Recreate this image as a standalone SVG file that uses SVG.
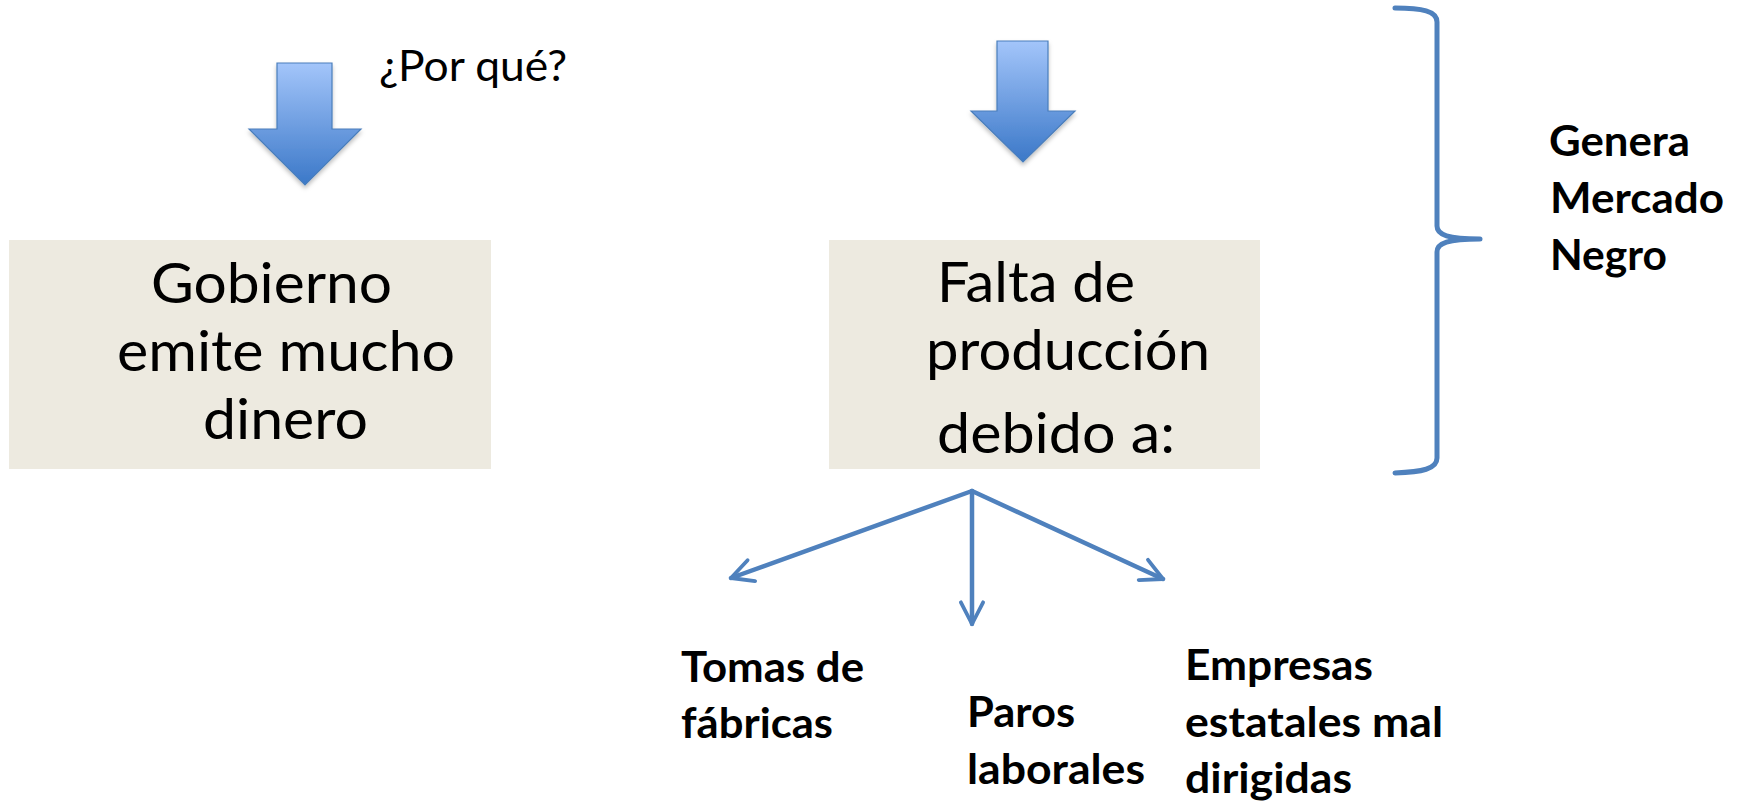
<svg xmlns="http://www.w3.org/2000/svg" width="1743" height="803" viewBox="0 0 1743 803">
<defs>
<linearGradient id="blueGrad" x1="0" y1="0" x2="0" y2="1">
<stop offset="0" stop-color="#a3c5fa"/>
<stop offset="1" stop-color="#3b78c8"/>
</linearGradient>
<filter id="shadow" x="-20%" y="-20%" width="140%" height="140%">
<feDropShadow dx="0" dy="3" stdDeviation="2" flood-color="#000" flood-opacity="0.25"/>
</filter>
<marker id="openArrow" viewBox="0 0 10 10" refX="8.6" refY="5" markerWidth="6.5" markerHeight="6.5" orient="auto" markerUnits="strokeWidth">
<path d="M1.2,1.2 L8.6,5 L1.2,8.8" fill="none" stroke="#4f81bd" stroke-width="1.3" stroke-linecap="round" stroke-linejoin="round"/>
</marker>
</defs>
<style>
.box{fill:#edeae0}
.big{font-family:Lato,"Open Sans","Liberation Sans",sans-serif;font-size:56px;fill:#000}
.lbl{font-family:Lato,"Open Sans","Liberation Sans",sans-serif;font-size:42px;fill:#000}
.bold{font-family:Lato,"Open Sans","Liberation Sans",sans-serif;font-size:42px;font-weight:bold;fill:#000}
.barrow{fill:url(#blueGrad);stroke:#4a7ebb;stroke-width:1.2;filter:url(#shadow)}
.conn{stroke:#4f81bd;stroke-width:4.5;fill:none;stroke-linecap:round}
.brace{stroke:#4f81bd;stroke-width:5;fill:none;stroke-linecap:round;stroke-linejoin:round}
</style>
<rect width="1743" height="803" fill="#ffffff"/>

<g id="arrow-left">
<polygon class="barrow" points="277,63 332,63 332,129 361,129 305,185 249,129 277,129"/>
</g>
<g id="label-porque">
<text class="lbl" x="379" y="81" textLength="188" lengthAdjust="spacingAndGlyphs">¿Por qué?</text>
</g>
<g id="node-gobierno">
<rect class="box" x="9" y="240" width="482" height="229"/>
<text class="big" x="151" y="303" textLength="241" lengthAdjust="spacingAndGlyphs">Gobierno</text>
<text class="big" x="117" y="371" textLength="338" lengthAdjust="spacingAndGlyphs">emite mucho</text>
<text class="big" x="203" y="439" textLength="165" lengthAdjust="spacingAndGlyphs">dinero</text>
</g>

<g id="arrow-right">
<polygon class="barrow" points="997,41 1048,41 1048,111 1075,111 1023,162 971,111 997,111"/>
</g>
<g id="node-falta">
<rect class="box" x="829" y="240" width="431" height="229"/>
<text class="big" x="937" y="302" textLength="198" lengthAdjust="spacingAndGlyphs">Falta de</text>
<text class="big" x="926" y="370" textLength="284" lengthAdjust="spacingAndGlyphs">producción</text>
<text class="big" x="937" y="453" textLength="238" lengthAdjust="spacingAndGlyphs">debido a:</text>
</g>

<g id="brace">
<path class="brace" d="M1395,8 C1422,8 1437,11 1437,22 L1437,226 C1437,235 1448,239 1480,239 C1448,239 1437,243 1437,252 L1437,458 C1437,469 1422,472 1395,473"/>
</g>
<g id="node-mercado">
<text class="bold" x="1549" y="156" textLength="141" lengthAdjust="spacingAndGlyphs">Genera</text>
<text class="bold" x="1550" y="213" textLength="174" lengthAdjust="spacingAndGlyphs">Mercado</text>
<text class="bold" x="1550" y="270" textLength="117" lengthAdjust="spacingAndGlyphs">Negro</text>
</g>

<g id="connectors">
<line class="conn" x1="972" y1="491" x2="731" y2="578" marker-end="url(#openArrow)"/>
<line class="conn" x1="972" y1="491" x2="972" y2="624" marker-end="url(#openArrow)"/>
<line class="conn" x1="972" y1="491" x2="1163" y2="579" marker-end="url(#openArrow)"/>
</g>

<g id="node-tomas">
<text class="bold" x="681" y="682" textLength="183" lengthAdjust="spacingAndGlyphs">Tomas de</text>
<text class="bold" x="681" y="738" textLength="152" lengthAdjust="spacingAndGlyphs">fábricas</text>
</g>
<g id="node-paros">
<text class="bold" x="967" y="727" textLength="108" lengthAdjust="spacingAndGlyphs">Paros</text>
<text class="bold" x="967" y="784" textLength="178" lengthAdjust="spacingAndGlyphs">laborales</text>
</g>
<g id="node-empresas">
<text class="bold" x="1185" y="680" textLength="188" lengthAdjust="spacingAndGlyphs">Empresas</text>
<text class="bold" x="1185" y="737" textLength="258" lengthAdjust="spacingAndGlyphs">estatales mal</text>
<text class="bold" x="1185" y="793" textLength="167" lengthAdjust="spacingAndGlyphs">dirigidas</text>
</g>
</svg>
